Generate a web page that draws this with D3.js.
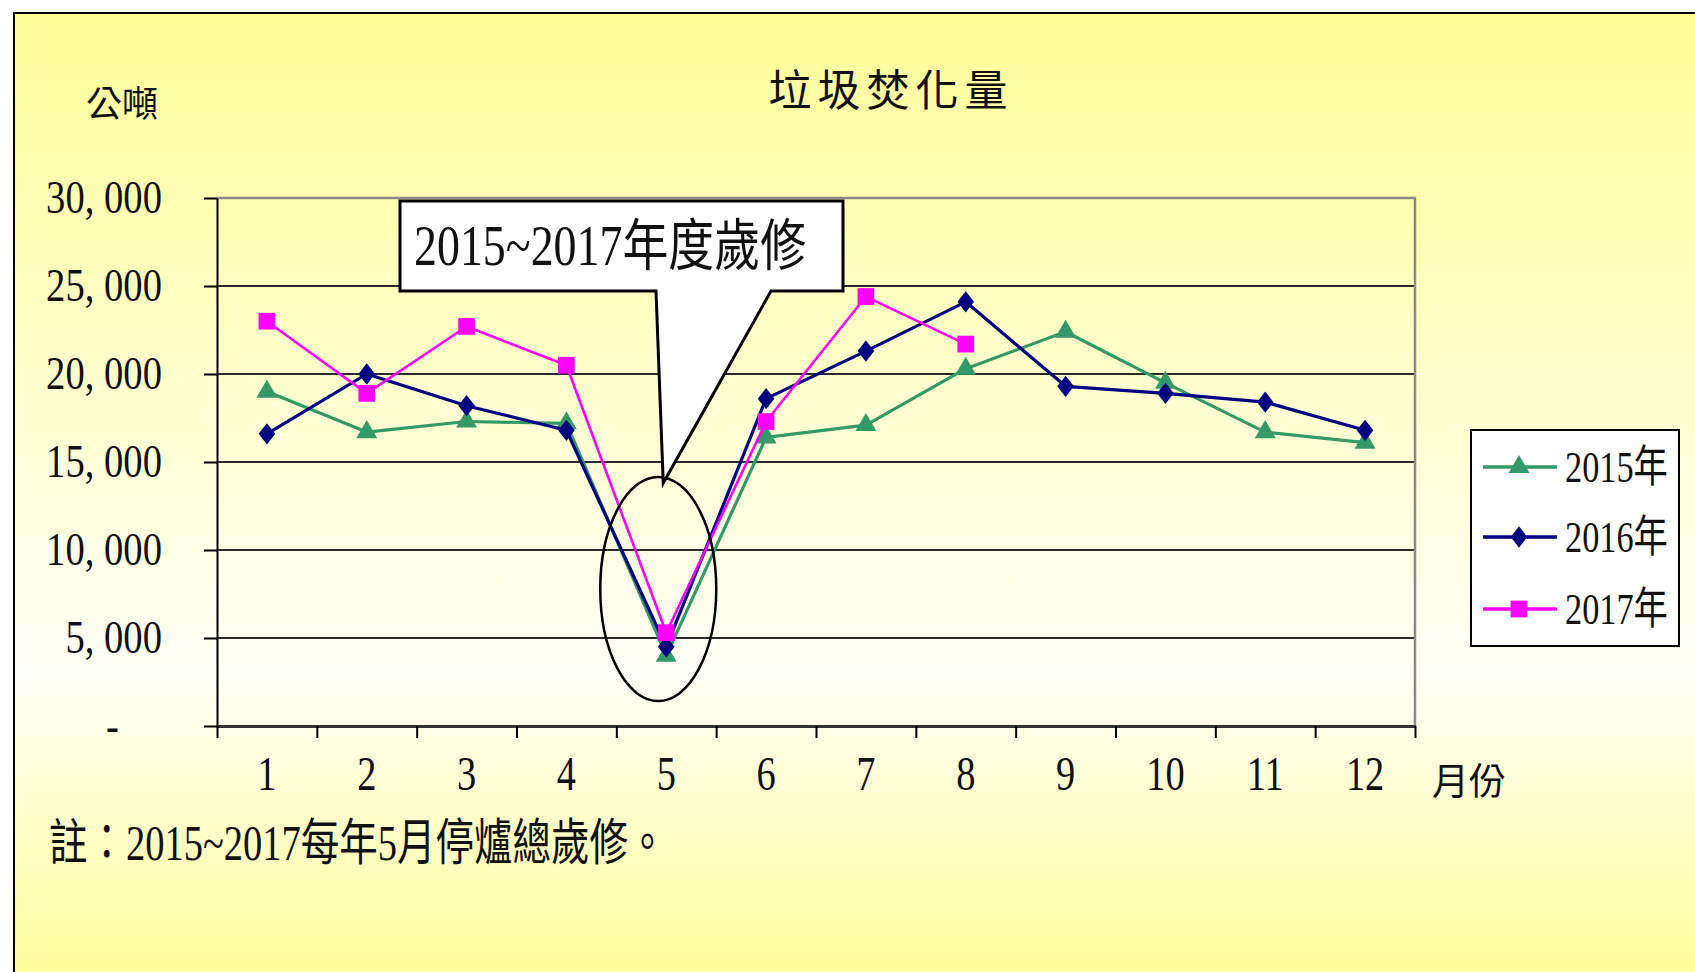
<!DOCTYPE html>
<html>
<head>
<meta charset="utf-8">
<script src="https://cdn.jsdelivr.net/npm/d3@7"></script>
<style>
  body { margin: 0; background: #fff; }
  svg { display: block; }
</style>
</head>
<body>
<script>
// months on the x axis
const months = ["1", "2", "3", "4", "5", "6", "7", "8", "9", "10", "11", "12"];
// tonnes burned per month
const y2015 = [19000, 16700, 17300, 17200, 4000, 16400, 17100, 20300, 22400, 19500, 16700, 16100];
const y2016 = [16600, 20000, 18200, 16800, 4500, 18600, 21300, 24100, 19300, 18900, 18400, 16800];
const y2017 = [23000, 18900, 22700, 20500, 5300, 17300, 24400, 21700];
const yTicks = [0, 5000, 10000, 15000, 20000, 25000, 30000];
const seriesNames = ["2015年", "2016年", "2017年"];

const W = 1695, H = 972;
const pLeft = 217, pRight = 1415, pTop = 198, pBottom = 726;
const font = "'Liberation Serif', 'Noto Sans CJK TC', serif";

// squeeze text horizontally, the original font is a narrow Ming face
const squeeze = (sel, sx) => {
  sel.each(function () {
    const t = d3.select(this);
    const tx = +t.attr("x") || 0;
    const ty = +t.attr("y") || 0;
    t.attr("x", 0).attr("y", 0)
      .attr("transform", "translate(" + tx + "," + ty + ") scale(" + sx + ",1)");
  });
};

const svg = d3.select("body").append("svg").attr("width", W).attr("height", H);

const grad = svg.append("defs").append("linearGradient")
  .attr("id", "bg").attr("x1", 0).attr("y1", 0).attr("x2", 0).attr("y2", 1);
grad.append("stop").attr("offset", "0%").attr("stop-color", "#ffff99");
grad.append("stop").attr("offset", "68%").attr("stop-color", "#fffff6");
grad.append("stop").attr("offset", "100%").attr("stop-color", "#ffff99");

// outer chart frame
svg.append("rect")
  .attr("x", 14).attr("y", 13)
  .attr("width", W).attr("height", H)
  .attr("fill", "url(#bg)")
  .attr("stroke", "#000").attr("stroke-width", 2);

// scales
const x = d3.scaleBand().domain(months).range([pLeft, pRight]).paddingInner(0);
const xEdge = d3.scaleLinear().domain([0, 12]).range([pLeft, pRight]);
const y = d3.scaleLinear().domain([0, 30000]).range([pBottom, pTop]);

// gridlines
svg.append("g")
  .selectAll("line")
  .data(yTicks.filter((d) => d > 0 && d < 30000))
  .enter()
  .append("line")
  .attr("x1", pLeft).attr("x2", pRight)
  .attr("y1", (d) => y(d)).attr("y2", (d) => y(d))
  .attr("stroke", "#2a2a2a").attr("stroke-width", 2);

// grey top and right border of the plot
svg.append("path")
  .attr("d", "M" + pLeft + "," + y(30000) + "H" + pRight + "V" + pBottom)
  .attr("fill", "none").attr("stroke", "#8a8a8a").attr("stroke-width", 2.5);

// y axis
const yAxis = d3.axisLeft(y)
  .tickValues(yTicks)
  .tickSize(13)
  .tickSizeOuter(0)
  .tickPadding(42)
  .tickFormat((d) => (d === 0 ? "-" : d3.format(",")(d).replace(",", ", ")));

const gy = svg.append("g").attr("transform", "translate(" + pLeft + ",0)").call(yAxis);
gy.select(".domain").attr("stroke", "#000").attr("stroke-width", 2);
gy.selectAll(".tick line").attr("stroke", "#000").attr("stroke-width", 2);
gy.selectAll(".tick text")
  .attr("font-family", font).attr("font-size", 46).attr("fill", "#111")
  .attr("x", (d) => (d === 0 ? -98 : -55));
squeeze(gy.selectAll(".tick text"), 0.84);

// x axis: ticks on category edges, labels in the middle
const gxe = svg.append("g")
  .attr("transform", "translate(0," + pBottom + ")")
  .call(d3.axisBottom(xEdge).ticks(12).tickSize(12).tickSizeOuter(0).tickFormat(""));
gxe.select(".domain").attr("stroke", "#333").attr("stroke-width", 3);
gxe.selectAll(".tick line").attr("stroke", "#000").attr("stroke-width", 2);

const gx = svg.append("g")
  .attr("transform", "translate(0," + pBottom + ")")
  .call(d3.axisBottom(x).tickSize(0).tickPadding(30));
gx.select(".domain").remove();
gx.selectAll(".tick text")
  .attr("font-family", font).attr("font-size", 48).attr("fill", "#111")
  .attr("dy", "0.71em");
squeeze(gx.selectAll(".tick text"), 0.8);

// series
const series = [
  { name: seriesNames[0], values: y2015, color: "#339966", shape: "triangle", width: 3.2 },
  { name: seriesNames[1], values: y2016, color: "#000080", shape: "diamond", width: 3.2 },
  { name: seriesNames[2], values: y2017, color: "#ff00ff", shape: "square", width: 2.6 }
];

const diamond = {
  draw(ctx, size) {
    const h = Math.sqrt(size) * 0.72;
    const w = h * 0.78;
    ctx.moveTo(0, -h); ctx.lineTo(w, 0); ctx.lineTo(0, h); ctx.lineTo(-w, 0); ctx.closePath();
  }
};
const marker = (shape) => {
  if (shape === "triangle") return d3.symbol().type(d3.symbolTriangle).size(190)();
  if (shape === "square") return d3.symbol().type(d3.symbolSquare).size(280)();
  return d3.symbol().type(diamond).size(220)();
};

const line = d3.line()
  .x((d, i) => x(months[i]) + x.bandwidth() / 2)
  .y((d) => y(d));

series.forEach((s) => {
  const g = svg.append("g");
  g.append("path")
    .datum(s.values)
    .attr("d", line)
    .attr("fill", "none")
    .attr("stroke", s.color)
    .attr("stroke-width", s.width)
    .attr("stroke-linejoin", "round");
  g.selectAll("path.mark")
    .data(s.values)
    .enter()
    .append("path")
    .attr("class", "mark")
    .attr("d", marker(s.shape))
    .attr("transform", (d, i) => "translate(" + (x(months[i]) + x.bandwidth() / 2) + "," + y(d) + ")")
    .attr("fill", s.color);
});

// ellipse around May
const cx5 = x("5") + x.bandwidth() / 2;
svg.append("ellipse")
  .attr("cx", cx5 - 8).attr("cy", 589)
  .attr("rx", 58).attr("ry", 112)
  .attr("fill", "none").attr("stroke", "#000").attr("stroke-width", 2.5);

// callout box
svg.append("path")
  .attr("d", "M400,201H843V291H771L" + (cx5 - 3) + ",483L656,291H400Z")
  .attr("fill", "#fff").attr("stroke", "#000").attr("stroke-width", 3)
  .attr("stroke-linejoin", "miter");
const callout = svg.append("text")
  .attr("x", 414).attr("y", 265)
  .attr("font-family", font).attr("font-size", 56).attr("fill", "#111")
  .text("2015~2017年度歲修");
squeeze(callout, 0.82);

// title and axis names
svg.append("text")
  .attr("x", 891).attr("y", 106)
  .attr("text-anchor", "middle")
  .attr("font-family", font).attr("font-size", 43).attr("letter-spacing", 6)
  .attr("fill", "#111")
  .text("垃圾焚化量");

svg.append("text")
  .attr("x", 86).attr("y", 117)
  .attr("font-family", font).attr("font-size", 36).attr("fill", "#111")
  .text("公噸");

svg.append("text")
  .attr("x", 1432).attr("y", 795)
  .attr("font-family", font).attr("font-size", 37).attr("fill", "#111")
  .text("月份");

const note = svg.append("text")
  .attr("x", 49).attr("y", 860)
  .attr("font-family", font).attr("font-size", 50).attr("fill", "#111")
  .text("註：2015~2017每年5月停爐總歲修。");
squeeze(note, 0.77);

// legend
const lg = svg.append("g");
lg.append("rect")
  .attr("x", 1471).attr("y", 430).attr("width", 208).attr("height", 216)
  .attr("fill", "#fff").attr("stroke", "#000").attr("stroke-width", 2);
const legendY = [467, 537, 609];
series.forEach((s, i) => {
  lg.append("line")
    .attr("x1", 1483).attr("x2", 1557)
    .attr("y1", legendY[i]).attr("y2", legendY[i])
    .attr("stroke", s.color).attr("stroke-width", 3.5);
  lg.append("path")
    .attr("d", marker(s.shape))
    .attr("transform", "translate(1519," + legendY[i] + ")")
    .attr("fill", s.color);
  const t = lg.append("text")
    .attr("x", 1565).attr("y", legendY[i] + 15)
    .attr("font-family", font).attr("font-size", 44).attr("fill", "#111")
    .text(s.name);
  squeeze(t, 0.78);
});
</script>
</body>
</html>
